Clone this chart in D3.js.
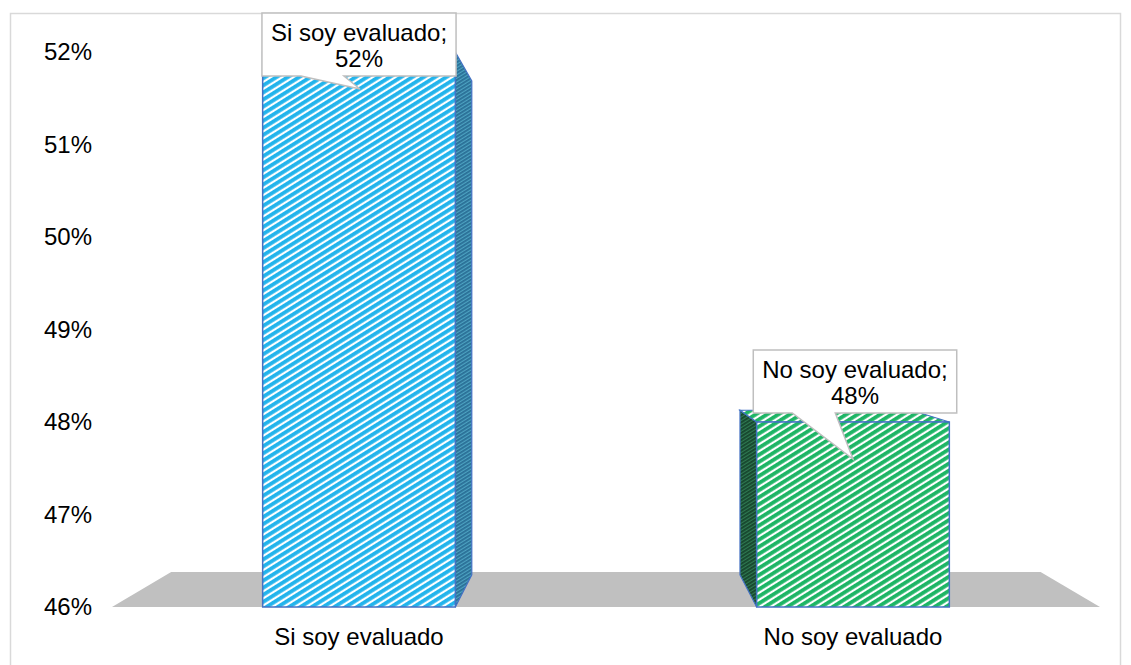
<!DOCTYPE html>
<html>

<head>
  <meta charset="UTF-8" />
  <title>Si soy evaluado / No soy evaluado</title>
  <style>
    body {
      margin: 0;
      background: #ffffff;
      font-family: Arial, "Liberation Sans", Helvetica, sans-serif;
    }
  </style>
  <script src="https://d3js.org/d3.v7.min.js"></script>
</head>

<body>
  <script>
    /* Data */
    let categories = ["Si soy evaluado", "No soy evaluado"],
      values = [52, 48],
      labelTexts = ["Si soy evaluado;", "No soy evaluado;"],
      tickValues = [46, 47, 48, 49, 50, 51, 52];

    let W = 1131,
      H = 665,
      fontSize = 24,
      vp = { x: 605, y: 315 },   // vanishing point for the 3D look
      barDepth = 0.11,
      floorDepth = 0.12,
      colors = [
        { main: "#22b4ec", side: "#2a6f96", sideLight: "#4da3c2", edge: "#4472c4" },
        { main: "#1db565", side: "#17452d", sideLight: "#2f7a52", edge: "#4472c4" }
      ];

    let svg = d3.select("body")
      .append("svg")
      .attr("width", W)
      .attr("height", H);

    /* Patterns */
    let defs = svg.append("defs");
    colors.forEach((c, i) => {
      let p = defs.append("pattern")
        .attr("id", "front" + i)
        .attr("patternUnits", "userSpaceOnUse")
        .attr("width", 6)
        .attr("height", 6)
        .attr("patternTransform", "rotate(58)");
      p.append("rect").attr("width", 6).attr("height", 6).attr("fill", "#ffffff");
      p.append("rect").attr("width", 3.8).attr("height", 6).attr("fill", c.main);

      let s = defs.append("pattern")
        .attr("id", "side" + i)
        .attr("patternUnits", "userSpaceOnUse")
        .attr("width", 3)
        .attr("height", 3)
        .attr("patternTransform", "rotate(58)");
      s.append("rect").attr("width", 3).attr("height", 3).attr("fill", c.sideLight);
      s.append("rect").attr("width", 1.8).attr("height", 3).attr("fill", c.side);
    });

    /* Frame */
    svg.append("rect")
      .attr("x", 10.5)
      .attr("y", 13.5)
      .attr("width", 1110)
      .attr("height", 700)
      .attr("fill", "none")
      .attr("stroke", "#d9d9d9")
      .attr("stroke-width", 1.5);

    /* Scales */
    let yScale = d3.scaleLinear()
      .domain([46, 52])
      .range([607, 52]);

    let xScale = d3.scaleBand()
      .domain(categories)
      .range([112, 1100])
      .padding(0);

    let barW = xScale.bandwidth() * 0.39;

    let back = (p, f) => [p[0] + f * (vp.x - p[0]), p[1] + f * (vp.y - p[1])];
    let poly = pts => "M" + pts.map(p => p.join(",")).join("L") + "Z";

    /* Floor */
    let y0 = yScale(46),
      x0 = xScale.range()[0],
      x1 = xScale.range()[1];
    svg.append("path")
      .attr("d", poly([[x0, y0], [x1, y0], back([x1, y0], floorDepth), back([x0, y0], floorDepth)]))
      .attr("fill", "#c0c0c0");

    /* Y axis labels */
    svg.append("g")
      .selectAll("text")
      .data(tickValues)
      .enter()
      .append("text")
      .attr("x", 92)
      .attr("y", d => yScale(d))
      .attr("dy", "0.35em")
      .attr("text-anchor", "end")
      .attr("font-size", fontSize)
      .attr("fill", "#000")
      .text(d => d + "%");

    /* Bars */
    let bars = svg.append("g");
    categories.forEach((cat, i) => {
      let cx = xScale(cat) + xScale.bandwidth() / 2,
        L = cx - barW / 2,
        R = cx + barW / 2,
        T = yScale(values[i]),
        B = y0,
        c = colors[i];

      // visible side face
      if (R < vp.x) {
        bars.append("path")
          .attr("d", poly([[R, T], back([R, T], barDepth), back([R, B], barDepth), [R, B]]))
          .attr("fill", "url(#side" + i + ")")
          .attr("stroke", c.edge)
          .attr("stroke-width", 1.2);
      } else if (L > vp.x) {
        bars.append("path")
          .attr("d", poly([[L, T], back([L, T], barDepth), back([L, B], barDepth), [L, B]]))
          .attr("fill", "url(#side" + i + ")")
          .attr("stroke", c.edge)
          .attr("stroke-width", 1.2);
      }
      // top face
      if (T > vp.y) {
        bars.append("path")
          .attr("d", poly([[L, T], [R, T], back([R, T], barDepth), back([L, T], barDepth)]))
          .attr("fill", "url(#front" + i + ")")
          .attr("stroke", c.edge)
          .attr("stroke-width", 1.2);
      }
      // front face
      bars.append("rect")
        .attr("x", L)
        .attr("y", T)
        .attr("width", barW)
        .attr("height", B - T)
        .attr("fill", "url(#front" + i + ")")
        .attr("stroke", c.edge)
        .attr("stroke-width", 1.5);
    });

    /* Category labels */
    svg.append("g")
      .selectAll("text")
      .data(categories)
      .enter()
      .append("text")
      .attr("x", d => xScale(d) + xScale.bandwidth() / 2)
      .attr("y", 645)
      .attr("text-anchor", "middle")
      .attr("font-size", fontSize)
      .attr("fill", "#000")
      .text(d => d);

    /* Data callouts */
    let boxOffsets = [-39, -72]; // box top relative to bar top
    categories.forEach((cat, i) => {
      let cx = xScale(cat) + xScale.bandwidth() / 2,
        T = yScale(values[i]),
        g = svg.append("g");

      let t1 = g.append("text")
        .attr("font-size", fontSize)
        .attr("text-anchor", "middle")
        .attr("fill", "#000")
        .text(labelTexts[i]);
      let tw = t1.node().getComputedTextLength(),
        bw = tw + 18,
        bh = 63,
        bx = cx + (i === 0 ? 0 : 2) - bw / 2,
        by = T + boxOffsets[i],
        tip = [cx + (i === 0 ? 1 : 0), T + 37];

      g.insert("path", "text")
        .attr("d", "M" + bx + "," + by +
          "H" + (bx + bw) +
          "V" + (by + bh) +
          "H" + (bx + 82) +
          "L" + tip[0] + "," + tip[1] +
          "L" + (bx + 39) + "," + (by + bh) +
          "H" + bx + "Z")
        .attr("fill", "#ffffff")
        .attr("stroke", "#bfbfbf")
        .attr("stroke-width", 1.5);

      t1.attr("x", bx + bw / 2).attr("y", by + 28);
      g.append("text")
        .attr("x", bx + bw / 2)
        .attr("y", by + 54)
        .attr("font-size", fontSize)
        .attr("text-anchor", "middle")
        .attr("fill", "#000")
        .text(values[i] + "%");
    });
  </script>
</body>

</html>
